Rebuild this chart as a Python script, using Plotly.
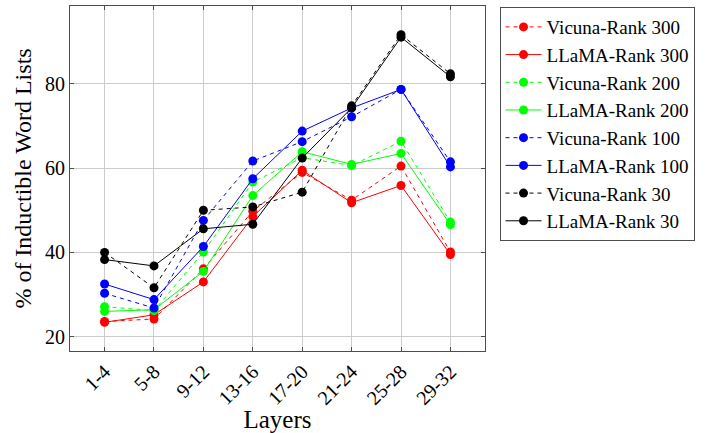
import plotly.graph_objects as go

layers = ["1-4", "5-8", "9-12", "13-16", "17-20", "21-24", "25-28", "29-32"]

vicuna_300 = [23.6, 24.2, 36.1, 49.8, 59.0, 52.4, 60.5, 40.1]
llama_300 = [23.4, 25.2, 33.0, 48.5, 59.5, 51.8, 55.9, 39.5]
vicuna_200 = [27.1, 26.2, 40.1, 56.7, 62.5, 60.6, 66.4, 47.2]
llama_200 = [26.0, 26.4, 35.5, 53.5, 63.9, 60.9, 63.5, 46.6]
vicuna_100 = [30.3, 26.8, 47.6, 61.7, 66.3, 72.2, 78.7, 61.5]
llama_100 = [32.5, 28.8, 41.4, 57.5, 68.8, 74.3, 78.7, 60.3]
vicuna_30 = [40.0, 31.6, 50.0, 50.8, 54.3, 74.8, 91.7, 82.4]
llama_30 = [38.3, 36.8, 45.6, 46.7, 62.4, 74.3, 91.1, 81.7]

y_ticks = [20, 40, 60, 80]

series = [
    ("Vicuna-Rank 300", vicuna_300, "#ff0000", "4px,4px"),
    ("LLaMA-Rank 300", llama_300, "#ff0000", "solid"),
    ("Vicuna-Rank 200", vicuna_200, "#00ff00", "4px,4px"),
    ("LLaMA-Rank 200", llama_200, "#00ff00", "solid"),
    ("Vicuna-Rank 100", vicuna_100, "#0000ff", "4px,4px"),
    ("LLaMA-Rank 100", llama_100, "#0000ff", "solid"),
    ("Vicuna-Rank 30", vicuna_30, "#000000", "4px,4px"),
    ("LLaMA-Rank 30", llama_30, "#000000", "solid"),
]

xs = list(range(len(layers)))
font_family = "Liberation Serif"

fig = go.Figure()
for name, vals, color, dash in series:
    fig.add_trace(go.Scatter(
        x=xs, y=vals, name=name, mode="lines+markers",
        line=dict(color=color, width=1, dash=dash),
        marker=dict(color=color, size=9, symbol="circle"),
    ))

axis_common = dict(
    showline=True, linecolor="#4d4d4d", linewidth=1, mirror="ticks",
    showgrid=True, gridcolor="#cccccc", gridwidth=1,
    ticks="inside", ticklen=4, tickcolor="#4d4d4d",
    zeroline=False, automargin=False,
    tickfont=dict(family=font_family, size=20, color="black"),
)

fig.update_xaxes(
    **axis_common,
    tickvals=xs, ticktext=layers, tickangle=-45,
    range=[-0.7, 7.7],
    title=dict(text="Layers", font=dict(family=font_family, size=25, color="black"), standoff=5),
)
fig.update_yaxes(
    **axis_common,
    tickvals=y_ticks,
    range=[16.6, 98.5],
    title=dict(text="% of Inductible Word Lists", font=dict(family=font_family, size=24, color="black"), standoff=6),
)

fig.update_layout(
    width=712, height=433,
    margin=dict(l=70, r=227, t=6, b=82),
    paper_bgcolor="white", plot_bgcolor="white",
    showlegend=True,
    legend=dict(
        x=1.035, y=0.997, xanchor="left", yanchor="top",
        bordercolor="#4d4d4d", borderwidth=1,
        font=dict(family=font_family, size=19, color="black"),
        itemwidth=36, tracegroupgap=0,
        bgcolor="white",
    ),
)

fig.write_html("out.html")
